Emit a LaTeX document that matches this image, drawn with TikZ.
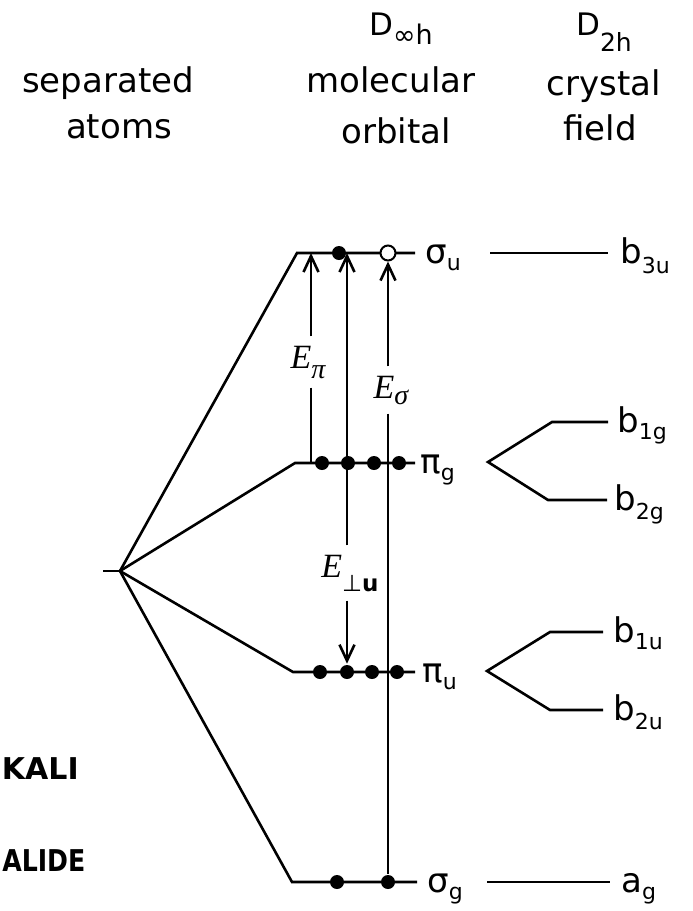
\documentclass[tikz,border=0pt]{standalone}
\usepackage{fontspec}
\setmainfont{DejaVu Sans}
\newfontfamily\tms{Liberation Serif}
\usepackage{tikz}
\usetikzlibrary{arrows.meta,positioning}

% lowered small subscript for the level names
\newcommand\lsub[2][7pt]{\raisebox{-#1}{\fontsize{22}{22}\selectfont #2}}
% subscript of the point groups in the headings
\newcommand\hsub[3][10pt]{\raisebox{-#1}{\fontsize{#2}{#2}\selectfont #3}}

\tikzset{
  hdr/.style={anchor=base, inner sep=0pt, font=\fontsize{34}{40}\selectfont},
  lvl/.style={anchor=base west, inner sep=0pt, font=\fontsize{34}{40}\selectfont},
  elab/.style={anchor=base, inner xsep=0pt, inner ysep=8pt, font=\fontsize{34}{36}\selectfont},
  salt/.style={inner sep=0pt, font=\fontsize{30}{36}\selectfont\bfseries},
  edot/.style={circle, fill, inner sep=0pt, minimum size=14pt},
  hole/.style={circle, draw, fill=white, inner sep=0pt, minimum size=15pt, line width=2pt},
  tr/.style={-{Straight Barb[length=16pt,width=15pt]}},
}

\begin{document}
\begin{tikzpicture}[x=1pt, y=-1pt, line width=2.6pt]
\useasboundingbox (0,0) rectangle (693,911);

% column headings
\node[hdr] (h1a) at (108,92) {separated};
\node[hdr] (h1b) at (119,138) {atoms};
\node[hdr] (h2a) at (401,35) {{\fontsize{31}{36}\selectfont D}\hsub[9pt]{27}{∞h}};
\node[hdr] (h2b) at (391,92) {molecular};
\node[hdr] (h2c) at (396,143) {orbital};
\node[hdr] (h3a) at (604,35) {{\fontsize{31}{36}\selectfont D}\hsub[16pt]{25}{2h}};
\node[hdr] (h3b) at (604,95) {crystal};
\node[hdr] (h3c) at (600,140) {field};

% separated atoms
\coordinate (at0) at (103,571);
\coordinate (at) at (120,571);

% molecular orbital levels
\coordinate (su1) at (297,253); \coordinate (su2) at (415,253);
\coordinate (pg1) at (295,463); \coordinate (pg2) at (415,463);
\coordinate (pu1) at (293,672); \coordinate (pu2) at (415,672);
\coordinate (sg1) at (292,882); \coordinate (sg2) at (417,882);

\draw (at0) -- (at);
\draw (at) -- (su1) -- (su2);
\draw (at) -- (pg1) -- (pg2);
\draw (at) -- (pu1) -- (pu2);
\draw (at) -- (sg1) -- (sg2);

\node[lvl] (su) at (424,263) {σ\lsub{u}};
\node[lvl] (pg) at (419,473) {π\lsub{g}};
\node[lvl] (pu) at (421,682) {π\lsub{u}};
\node[lvl] (sg) at (426,892) {σ\lsub{g}};

% electrons
\node[edot] (su-e) at (339,253) {};
\node[hole] (su-h) at (388,253) {};
\foreach \x [count=\i] in {322,348,374,399}
  \node[edot] (pg-e\i) at (\x,463) {};
\foreach \x [count=\i] in {320,347,372,397}
  \node[edot] (pu-e\i) at (\x,672) {};
\node[edot] (sg-e1) at (337,882) {};
\node[edot] (sg-e2) at (388,882) {};

% crystal field levels
\coordinate (b3l) at (490,253); \coordinate (b3r) at (608,253);
\coordinate (gv) at (488,462);
\coordinate (g1a) at (552,422); \coordinate (g1b) at (608,422);
\coordinate (g2a) at (548,500); \coordinate (g2b) at (607,500);
\coordinate (uv) at (487,671);
\coordinate (u1a) at (550,632); \coordinate (u1b) at (603,632);
\coordinate (u2a) at (550,710); \coordinate (u2b) at (603,710);
\coordinate (agl) at (487,882); \coordinate (agr) at (610,882);

\draw (b3l) -- (b3r);
\draw (g1b) -- (g1a) -- (gv) -- (g2a) -- (g2b);
\draw (u1b) -- (u1a) -- (uv) -- (u2a) -- (u2b);
\draw (agl) -- (agr);

\node[lvl] (b3u) at (619,263) {b\lsub[10pt]{3u}};
\node[lvl] (b1g) at (616,432) {b\lsub{1g}};
\node[lvl] (b2g) at (613,510) {b\lsub[9pt]{2g}};
\node[lvl] (b1u) at (612,642) {b\lsub{1u}};
\node[lvl] (b2u) at (612,720) {b\lsub[9pt]{2u}};
\node[lvl] (ag) at (620,892) {a\lsub{g}};

% transitions
\node[elab] (Ep) at (308,368) {{\tms\itshape E}\hsub[10pt]{28}{\tms\itshape π}};
\node[elab] (Eu) at (350,577) {{\tms\itshape E}\hsub[14pt]{23}{⊥\bfseries u}};
\node[elab] (Es) at (391,398) {{\tms\itshape E}\hsub[6pt]{28}{\tms\itshape σ}};

\draw[tr] (Ep.north -| 311,0) -- (311,253);
\draw (Ep.south -| 311,0) -- (311,463);
\draw[tr] (Eu.north -| pu-e2) -- (pu-e2 |- su1);
\draw[tr] (Eu.south -| pu-e2) -- (pu-e2.north);
\draw[tr] (Es.north -| su-h) -- (su-h.south);
\draw (Es.south -| sg-e2) -- (sg-e2);

% side labels, as far as they show
\node[salt, anchor=base east] (alk) at (80,779) {KALI};
\node[salt, anchor=base west] (hal) at (1,871) {\scalebox{0.84}[1]{ALIDE}};
\end{tikzpicture}
\end{document}
